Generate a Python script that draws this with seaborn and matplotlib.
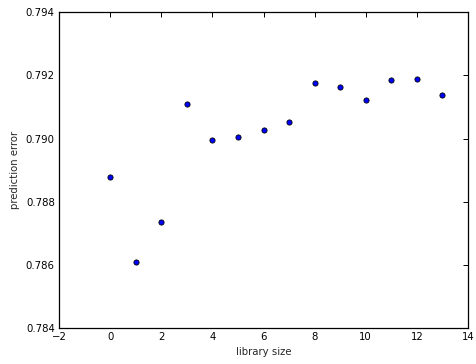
import matplotlib
matplotlib.use("Agg")
import matplotlib.pyplot as plt
import seaborn as sns
import pandas as pd

library_size = [0, 1, 2, 3, 4, 5, 6, 7, 8, 9, 10, 11, 12, 13]
prediction_error = [0.788797, 0.786085, 0.787367, 0.791076, 0.789959, 0.790041,
                    0.790275, 0.790538, 0.791757, 0.791630, 0.791203, 0.791842,
                    0.791873, 0.791383]
x_ticks = [-2, 0, 2, 4, 6, 8, 10, 12, 14]
y_ticks = [0.784, 0.786, 0.788, 0.790, 0.792, 0.794]

sns.set_style("white")
plt.rcParams['font.family'] = ['DejaVu Sans']

df = pd.DataFrame({"library size": library_size, "prediction error": prediction_error})

fig = plt.figure(figsize=(4.76, 3.64), dpi=100)
ax = fig.add_axes([59/476, 1-328.3/364, (468-59)/476, (328.3-12)/364])
sns.scatterplot(data=df, x="library size", y="prediction error", ax=ax,
                color=(0, 0, 1), edgecolor="black", linewidth=0.6, s=14, zorder=3)

ax.set_xlim(-2, 14)
ax.set_ylim(0.784, 0.794)
ax.set_xticks(x_ticks)
ax.set_yticks(y_ticks)
ax.set_xticklabels([str(t) if t >= 0 else "\u2212" + str(-t) for t in x_ticks])
ax.set_yticklabels([f"{t:.3f}" for t in y_ticks])
ax.tick_params(direction="in", length=3.5, width=0.7, top=True, right=True,
               labelsize=7.3, colors="black", pad=3)
for s in ax.spines.values():
    s.set_color("black")
    s.set_linewidth(0.9)
ax.set_xlabel("library size", fontsize=7.3, labelpad=3)
ax.set_ylabel("prediction error", fontsize=7.3, labelpad=4)

fig.savefig("out.png", dpi=100)
